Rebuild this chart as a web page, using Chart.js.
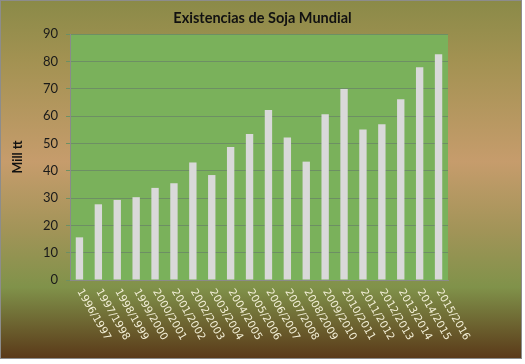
<!DOCTYPE html>
<html lang="es">
  <head>
    <meta charset="UTF-8" />
    <title>Existencias de Soja Mundial</title>
    <style>
      body {
        margin: 0;
        background: #ffffff;
        overflow: hidden;
      }
      #wrap {
        width: 525px;
        height: 364px;
      }
    </style>
  </head>
  <body>
    <div id="wrap"><canvas id="sojaChart" width="525" height="364"></canvas></div>

    <script src="https://cdn.jsdelivr.net/npm/chart.js"></script>
    <script>
      const campaigns = [
        "1996/1997", "1997/1998", "1998/1999", "1999/2000", "2000/2001",
        "2001/2002", "2002/2003", "2003/2004", "2004/2005", "2005/2006",
        "2006/2007", "2007/2008", "2008/2009", "2009/2010", "2010/2011",
        "2011/2012", "2012/2013", "2013/2014", "2014/2015", "2015/2016"
      ];
      const stocks = [
        15.6, 27.7, 29.3, 30.3, 33.7, 35.4, 43.0, 38.4, 48.7, 53.4,
        62.2, 52.1, 43.3, 60.6, 69.9, 55.1, 57.0, 66.1, 77.8, 82.6
      ];
      const yTicks = [0, 10, 20, 30, 40, 50, 60, 70, 80, 90];

      // fondo degradado + area verde
      const backdrop = {
        id: "backdrop",
        beforeDraw(chart) {
          const ctx = chart.ctx;
          const a = chart.chartArea;
          ctx.save();
          ctx.fillStyle = "#ffffff";
          ctx.fillRect(0, 0, chart.width, chart.height);
          const g = ctx.createLinearGradient(0, 0, 0, 359);
          g.addColorStop(0, "#8a8a48");
          g.addColorStop(0.17, "#a39252");
          g.addColorStop(0.45, "#c69c6c");
          g.addColorStop(0.64, "#a29458");
          g.addColorStop(0.8, "#80924a");
          g.addColorStop(1, "#5a3818");
          ctx.fillStyle = g;
          ctx.fillRect(0, 0, 522, 359);
          ctx.strokeStyle = "#8c8c8c";
          ctx.lineWidth = 1;
          ctx.strokeRect(0.5, 0.5, 521, 358);
          ctx.fillStyle = "#7ab15b";
          ctx.fillRect(a.left, a.top, a.right - a.left, a.bottom - a.top);
          ctx.restore();
        },
      };

      // etiquetas del eje x giradas hacia abajo
      const slantLabels = {
        id: "slantLabels",
        afterDraw(chart) {
          const ctx = chart.ctx;
          const xs = chart.scales.x;
          const y0 = chart.chartArea.bottom + 10;
          ctx.save();
          ctx.fillStyle = "#f3efd6";
          ctx.font = "10.5px 'DejaVu Sans'";
          ctx.textAlign = "left";
          ctx.textBaseline = "middle";
          campaigns.forEach((lab, i) => {
            const x = xs.getPixelForTick(i);
            ctx.save();
            ctx.translate(x, y0);
            ctx.rotate(Math.PI / 3);
            ctx.fillText(lab, 0, 0);
            ctx.restore();
          });
          ctx.restore();
        },
      };

      new Chart(document.getElementById("sojaChart"), {
        type: "bar",
        data: {
          labels: campaigns,
          datasets: [
            {
              data: stocks,
              backgroundColor: "#d9d9d9",
              borderWidth: 0,
              barPercentage: 0.39,
              categoryPercentage: 1,
            },
          ],
        },
        options: {
          responsive: false,
          animation: false,
          devicePixelRatio: 1,
          layout: { padding: 0 },
          plugins: {
            legend: { display: false },
            tooltip: { enabled: false },
            title: {
              display: true,
              text: "Existencias de Soja Mundial",
              color: "#111111",
              font: { family: "Lato", size: 14.5, weight: "bold", lineHeight: 1.2 },
              padding: { top: 10, bottom: 6.6 },
            },
          },
          scales: {
            x: {
              ticks: { display: false },
              grid: { display: false },
              border: { color: "#8a8a8a" },
              afterFit(scale) {
                scale.height = 84;
              },
            },
            y: {
              min: 0,
              max: 90,
              afterBuildTicks(scale) {
                scale.ticks = yTicks.map((v) => ({ value: v }));
              },
              ticks: {
                color: "#1a1a1a",
                padding: 8,
                font: { family: "Lato", size: 13 },
              },
              grid: {
                color: "#6d8f64",
                tickLength: 4,
                drawTicks: true,
              },
              border: { color: "#8a8a8a" },
              title: {
                display: true,
                text: "Mill tt",
                color: "#111111",
                font: { family: "Lato", size: 12.5, weight: "bold" },
                padding: { top: 10, bottom: 0 },
              },
              afterFit(scale) {
                scale.width = 70;
              },
            },
            // eje vacío a la derecha, solo reserva el margen
            yRight: {
              position: "right",
              min: 0,
              max: 90,
              ticks: { display: false },
              grid: { display: false },
              border: { display: false },
              afterFit(scale) {
                scale.width = 77;
              },
            },
          },
        },
        plugins: [backdrop, slantLabels],
      });
    </script>
  </body>
</html>
